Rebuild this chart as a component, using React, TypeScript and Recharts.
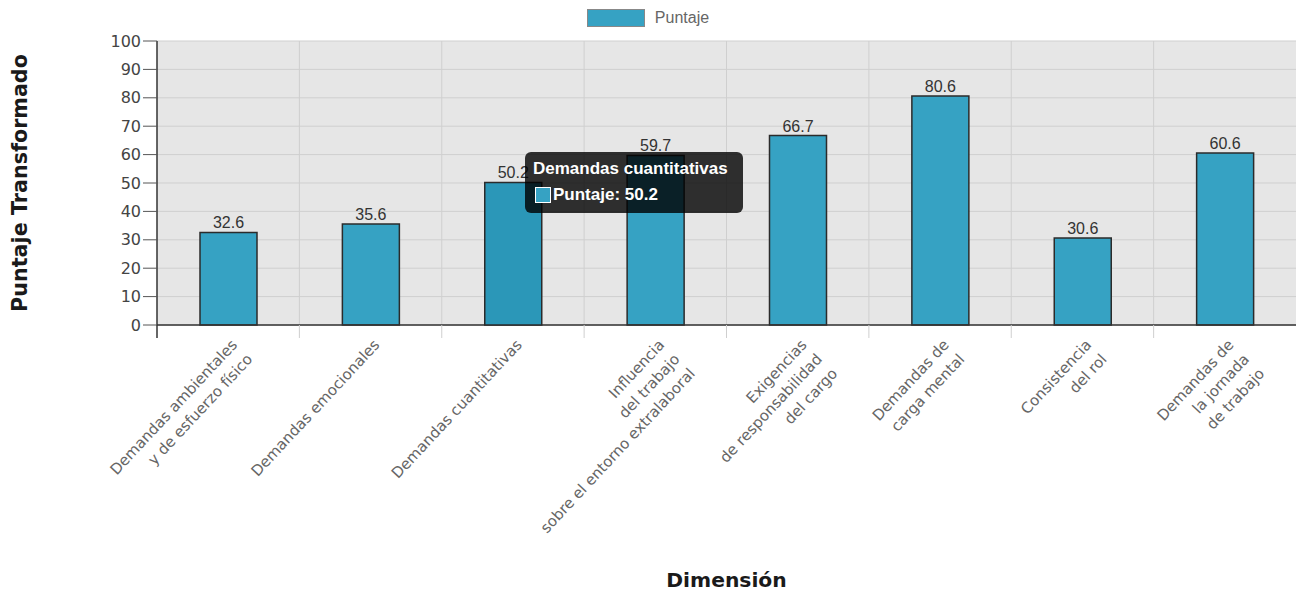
import React from "react";
import { BarChart, Bar, XAxis, YAxis, CartesianGrid, Tooltip, Legend, LabelList } from "recharts";

const categories = [
  "Demandas ambientales\ny de esfuerzo físico",
  "Demandas emocionales",
  "Demandas cuantitativas",
  "Influencia\ndel trabajo\nsobre el entorno extralaboral",
  "Exigencias\nde responsabilidad\ndel cargo",
  "Demandas de\ncarga mental",
  "Consistencia\ndel rol",
  "Demandas de\nla jornada\nde trabajo",
];
const puntaje = [32.6, 35.6, 50.2, 59.7, 66.7, 80.6, 30.6, 60.6];
const yTicks = [0, 10, 20, 30, 40, 50, 60, 70, 80, 90, 100];

const data = categories.map((name, i) => ({ name, puntaje: puntaje[i] }));

const W = 1296;
const H = 593;
const LEFT = 157;
const BAND = (W - LEFT) / categories.length;
const BAR = "#36a2c3";

function XTick(props: any) {
  const { x, y, payload, index } = props;
  const lines = String(payload.value).split("\n");
  const bx = x - BAND / 2;
  return (
    <g>
      <line x1={bx} y1={y} x2={bx} y2={y + 13} stroke={index === 0 ? "#333" : "#cfcfcf"} strokeWidth={index === 0 ? 1.5 : 1} />
      <g transform={`translate(${x + 6},${y + 17}) rotate(-47)`}>
        {lines.map((l, i) => (
          <text key={i} x={0} y={i * 21} dy="0.35em" textAnchor="end" fill="#666" fontSize={15} fontFamily="DejaVu Sans">
            {l}
          </text>
        ))}
      </g>
    </g>
  );
}

function YLabel(props: any) {
  const { viewBox } = props;
  const cy = viewBox.y + viewBox.height / 2;
  return (
    <text x={20} y={cy} transform={`rotate(-90,20,${cy})`} textAnchor="middle" dominantBaseline="central" fontFamily="DejaVu Sans" fontWeight="bold" fontSize={20.7} fill="#1a1a1a">
      Puntaje Transformado
    </text>
  );
}

function XLabel(props: any) {
  const { viewBox } = props;
  return (
    <text x={viewBox.x + viewBox.width / 2} y={viewBox.y + 255} textAnchor="middle" dominantBaseline="central" fontFamily="DejaVu Sans" fontWeight="bold" fontSize={20.3} fill="#1a1a1a">
      Dimensión
    </text>
  );
}

function LegendContent() {
  return (
    <div style={{ display: "flex", justifyContent: "center", alignItems: "center", paddingTop: 9, fontFamily: "Liberation Sans, Arial", fontSize: 16, color: "#666" }}>
      <span style={{ display: "inline-block", width: 56, height: 16, background: BAR, border: "1px solid #888", marginRight: 10 }} />
      <span>Puntaje</span>
    </div>
  );
}

function TipContent(props: any) {
  const { active, payload, label } = props;
  if (!active || !payload || !payload.length) return null;
  return (
    <div style={{ background: "rgba(0,0,0,0.8)", borderRadius: 6, padding: "7px 15px 8px 8px", color: "#fff", fontFamily: "Liberation Sans, Arial", fontSize: 17, fontWeight: "bold", lineHeight: "20px", whiteSpace: "nowrap" }}>
      <div style={{ marginBottom: 6 }}>{String(label).replace(/\n/g, " ")}</div>
      <div style={{ display: "flex", alignItems: "center", paddingLeft: 2 }}>
        <span style={{ display: "inline-block", width: 14, height: 14, background: BAR, border: "1px solid #fff", marginRight: 2 }} />
        <span>Puntaje: {payload[0].value}</span>
      </div>
    </div>
  );
}

export default function App() {
  return (
    <div style={{ position: "absolute", left: 0, top: 0 }}>
      <BarChart width={W} height={H} data={data} margin={{ top: 0, right: 0, left: 0, bottom: 0 }}>
        <Legend verticalAlign="top" height={41} content={<LegendContent />} />
        <CartesianGrid
          fill="#e6e6e6"
          stroke="#cfcfcf"
          verticalCoordinatesGenerator={({ offset }: any) =>
            categories.map((_, i) => offset.left + (i * offset.width) / categories.length).slice(1)
          }
        />
        <XAxis
          dataKey="name"
          height={268}
          interval={0}
          tickLine={false}
          tickSize={0}
          tickMargin={0}
          axisLine={{ stroke: "#333", strokeWidth: 1.5 }}
          tick={<XTick />}
          label={<XLabel />}
        />
        <YAxis
          width={LEFT}
          domain={[0, 100]}
          ticks={yTicks}
          interval={0}
          tickSize={14}
          tickMargin={2}
          axisLine={{ stroke: "#333", strokeWidth: 1.5 }}
          tickLine={{ stroke: "#555" }}
          tick={{ fill: "#444", fontSize: 16, fontFamily: "DejaVu Sans" }}
          label={<YLabel />}
        />
        <Tooltip defaultIndex={2} cursor={false} position={{ x: 525, y: 152 }} content={<TipContent />} isAnimationActive={false} />
        <Bar dataKey="puntaje" name="Puntaje" fill={BAR} stroke="#2b2b2b" strokeWidth={1.5} barSize={57} activeBar={{ fill: "#2b97b8" }} isAnimationActive={false}>
          <LabelList dataKey="puntaje" position="top" offset={4} fill="#333" fontSize={16} fontFamily="Liberation Sans, Arial" />
        </Bar>
      </BarChart>
    </div>
  );
}
